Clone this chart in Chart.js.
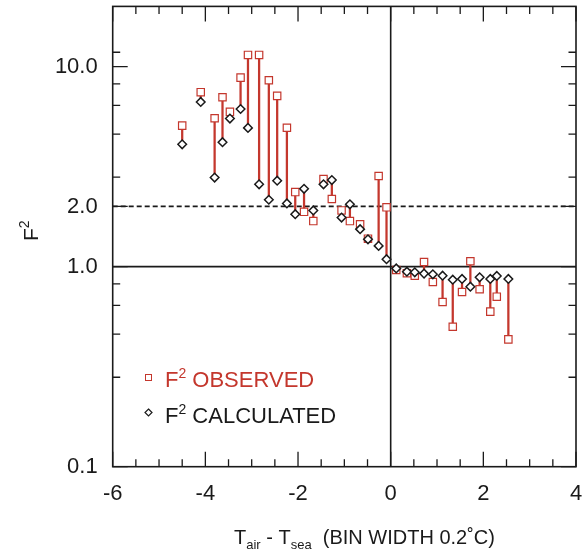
<!DOCTYPE html>
<html>
<head>
<meta charset="utf-8">
<script src="https://cdn.jsdelivr.net/npm/chart.js@4.4.0/dist/chart.umd.min.js"></script>
<style>
  html, body { margin: 0; padding: 0; background: #fff; }
  #wrap { width: 586px; height: 551px; }
</style>
</head>
<body>
<div id="wrap"><canvas id="c"></canvas></div>
<script>
// bin centres (Tair - Tsea) and F^2 values
const binCenters = [-4.50, -4.10, -3.80, -3.63, -3.47, -3.24, -3.08, -2.84, -2.63, -2.45, -2.24,
                    -2.06, -1.87, -1.67, -1.45, -1.27, -1.06, -0.88, -0.66, -0.49, -0.26, -0.09,
                    0.12, 0.35, 0.52, 0.72, 0.91, 1.12, 1.34, 1.54, 1.72, 1.92, 2.15, 2.29, 2.54];
const observed = [5.07, 7.45, 5.52, 7.03, 5.94, 8.81, 11.44, 11.44, 8.55, 7.14, 4.95,
                  2.36, 1.88, 1.69, 2.74, 2.18, 1.91, 1.69, 1.63, 1.38, 2.84, 1.98,
                  0.963, 0.927, 0.901, 1.055, 0.838, 0.666, 0.501, 0.747, 1.064, 0.771, 0.596, 0.708, 0.433];
const calculated = [4.09, 6.66, 2.79, 4.19, 5.50, 6.14, 4.94, 2.58, 2.16, 2.69, 2.07,
                    1.83, 2.45, 1.91, 2.58, 2.71, 1.76, 2.05, 1.54, 1.37, 1.27, 1.09,
                    0.98, 0.944, 0.937, 0.923, 0.916, 0.901, 0.861, 0.868, 0.794, 0.885, 0.868, 0.899, 0.868];

// axis ticks
const xTickValues = [-6, -5.5, -5, -4.5, -4, -3.5, -3, -2.5, -2, -1.5, -1, -0.5, 0,
                     0.5, 1, 1.5, 2, 2.5, 3, 3.5, 4];
const xMajorTicks = [-6, -4, -2, 0, 2, 4];
const yTickValues = [0.1, 0.28, 0.46, 0.64, 0.82, 1, 2, 2.8, 4.6, 6.4, 8.2, 10, 11.8];
const yMajorTicks = [0.1, 1, 2, 10];
const yTickLabels = ['0.1', '1.0', '2.0', '10.0'];

// reference lines
const solidLevel = 1;
const dashedLevel = 2;
const zeroLine = 0;

const RED = '#c4372d';
const INK = '#1a1a1a';
const FONT = '"Liberation Sans", Arial, Helvetica, sans-serif';

// draws a run of text pieces with super/subscripts
function drawRuns(ctx, x, y, runs) {
    runs.forEach(r => {
        ctx.font = r.size + 'px ' + FONT;
        ctx.fillText(r.t, x, y + (r.dy || 0));
        x += ctx.measureText(r.t).width;
    });
}

const framePlugin = {
    id: 'framePlugin',
    beforeDatasetsDraw(chart) {
        const { ctx, chartArea: a, scales: { x, y } } = chart;
        ctx.save();
        ctx.strokeStyle = INK;
        ctx.lineWidth = 1.6;
        let py = y.getPixelForValue(solidLevel);
        ctx.beginPath(); ctx.moveTo(a.left, py); ctx.lineTo(a.right, py); ctx.stroke();
        let px = x.getPixelForValue(zeroLine);
        ctx.beginPath(); ctx.moveTo(px, a.top); ctx.lineTo(px, a.bottom); ctx.stroke();
        ctx.setLineDash([5, 3]);
        ctx.lineWidth = 1.8;
        py = y.getPixelForValue(dashedLevel);
        ctx.beginPath(); ctx.moveTo(a.left, py); ctx.lineTo(a.right, py); ctx.stroke();
        ctx.restore();
    },
    afterDraw(chart) {
        const { ctx, chartArea: a, scales: { x, y } } = chart;
        ctx.save();
        ctx.strokeStyle = INK;
        ctx.lineWidth = 1.6;
        ctx.strokeRect(a.left, a.top, a.right - a.left, a.bottom - a.top);

        // inward ticks on all four sides
        ctx.lineWidth = 1.3;
        xTickValues.forEach(v => {
            const px = x.getPixelForValue(v);
            const len = xMajorTicks.includes(v) ? 15 : 7.5;
            ctx.beginPath();
            ctx.moveTo(px, a.bottom); ctx.lineTo(px, a.bottom - len);
            ctx.moveTo(px, a.top); ctx.lineTo(px, a.top + len);
            ctx.stroke();
        });
        yTickValues.forEach(v => {
            const py = y.getPixelForValue(v);
            const len = yMajorTicks.includes(v) ? 15 : 7.5;
            ctx.beginPath();
            ctx.moveTo(a.left, py); ctx.lineTo(a.left + len, py);
            ctx.moveTo(a.right, py); ctx.lineTo(a.right - len, py);
            ctx.stroke();
        });

        // legend
        ctx.lineWidth = 1;
        ctx.strokeStyle = RED;
        ctx.strokeRect(145.5, 374.5, 6, 6);
        ctx.strokeStyle = INK;
        ctx.lineWidth = 1.2;
        ctx.beginPath();
        ctx.moveTo(148.5, 409); ctx.lineTo(152, 412.5); ctx.lineTo(148.5, 416); ctx.lineTo(145, 412.5);
        ctx.closePath(); ctx.stroke();

        ctx.textAlign = 'left';
        ctx.textBaseline = 'alphabetic';
        ctx.fillStyle = RED;
        drawRuns(ctx, 165, 387, [{ t: 'F', size: 22 }, { t: '2', size: 14, dy: -9 }, { t: ' OBSERVED', size: 22 }]);
        ctx.fillStyle = INK;
        drawRuns(ctx, 165, 422.5, [{ t: 'F', size: 22 }, { t: '2', size: 14, dy: -9 }, { t: ' CALCULATED', size: 22 }]);

        // x title
        drawRuns(ctx, 234, 544, [
            { t: 'T', size: 20 }, { t: 'air', size: 13, dy: 5 },
            { t: ' - T', size: 20 }, { t: 'sea', size: 13, dy: 5 },
            { t: '  (BIN WIDTH 0.2\u02DAC)', size: 20 }
        ]);

        // y title, rotated
        ctx.translate(38, 241);
        ctx.rotate(-Math.PI / 2);
        drawRuns(ctx, 0, 0, [{ t: 'F', size: 21 }, { t: '2', size: 14, dy: -9 }]);
        ctx.restore();
    }
};

new Chart(document.getElementById('c'), {
    type: 'scatter',
    data: {
        datasets: [
            {
                type: 'bar',
                label: 'difference',
                data: binCenters.map((v, i) => ({ x: v, y: [calculated[i], observed[i]] })),
                backgroundColor: RED,
                barThickness: 1.6,
                order: 3
            },
            {
                label: 'F2 OBSERVED',
                data: binCenters.map((v, i) => ({ x: v, y: observed[i] })),
                pointStyle: 'rect',
                pointRadius: 5.2,
                borderColor: RED,
                backgroundColor: '#fff',
                borderWidth: 1.2,
                order: 2
            },
            {
                label: 'F2 CALCULATED',
                data: binCenters.map((v, i) => ({ x: v, y: calculated[i] })),
                pointStyle: 'rectRot',
                pointRadius: 4.3,
                borderColor: INK,
                backgroundColor: '#fff',
                borderWidth: 1.5,
                order: 1
            }
        ]
    },
    options: {
        responsive: true,
        maintainAspectRatio: false,
        animation: false,
        layout: { padding: { top: 6, right: 10, left: 0, bottom: 0 } },
        plugins: { legend: { display: false }, tooltip: { enabled: false } },
        scales: {
            x: {
                type: 'linear',
                min: -6,
                max: 4,
                offset: false,
                grid: { display: false, drawTicks: false },
                border: { display: false },
                afterBuildTicks: s => { s.ticks = xTickValues.map(v => ({ value: v })); },
                afterFit: s => { s.height = 84.3; s.paddingLeft = 0; s.paddingRight = 0; },
                ticks: {
                    autoSkip: false,
                    maxRotation: 0,
                    padding: 14,
                    color: INK,
                    font: { family: FONT, size: 22 },
                    callback: v => xMajorTicks.includes(v) ? String(v) : null
                }
            },
            y: {
                type: 'logarithmic',
                min: 0.1,
                max: 20,
                grid: { display: false, drawTicks: false },
                border: { display: false },
                afterBuildTicks: s => { s.ticks = yTickValues.map(v => ({ value: v })); },
                afterFit: s => { s.width = 112.7; s.paddingTop = 0; s.paddingBottom = 0; },
                ticks: {
                    autoSkip: false,
                    padding: 15,
                    color: INK,
                    font: { family: FONT, size: 22 },
                    callback: v => {
                        const k = yMajorTicks.indexOf(v);
                        return k >= 0 ? yTickLabels[k] : null;
                    }
                }
            }
        }
    },
    plugins: [framePlugin]
});
</script>
</body>
</html>
